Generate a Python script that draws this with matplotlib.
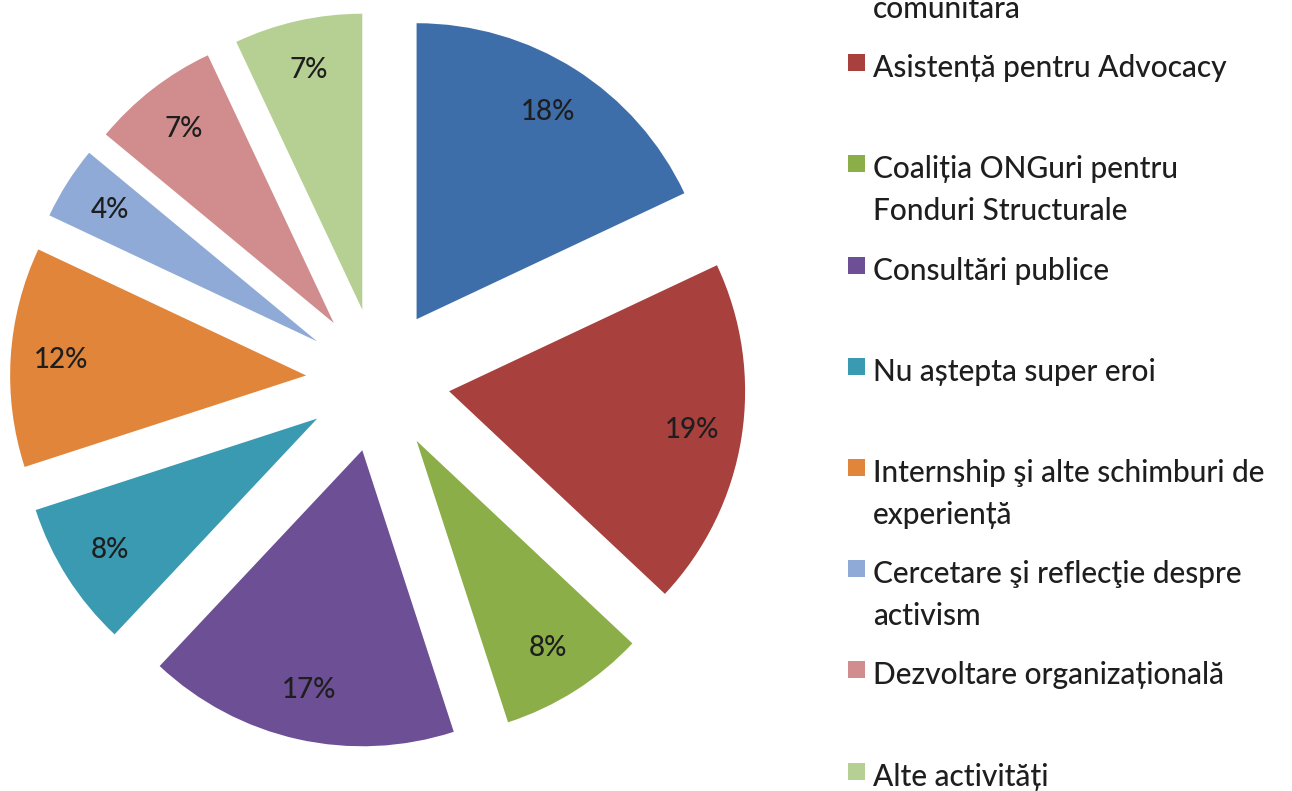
# pie chart of activity shares, exploded slices, legend on the right
import matplotlib
matplotlib.use("Agg")
from matplotlib import pyplot as plt
from matplotlib.patches import Rectangle

plt.rcParams['font.family'] = ['Lato', 'DejaVu Sans']

# data (clockwise from 12 o'clock)
labels = ["Implicare\ncomunitară",
          "Asistență pentru Advocacy",
          "Coaliția ONGuri pentru\nFonduri Structurale",
          "Consultări publice",
          "Nu aștepta super eroi",
          "Internship şi alte schimburi de\nexperiență",
          "Cercetare şi reflecţie despre\nactivism",
          "Dezvoltare organizațională",
          "Alte activități"]
shares = [18, 19, 8, 17, 8, 12, 4, 7, 7]
colors = ["#3E6EA9", "#A8403E", "#8BAE48", "#6C4F95", "#3A9AB1",
          "#E1853A", "#8FAAD7", "#D18D8E", "#B6CF93"]

W, H = 1292, 791
fig = plt.figure(figsize=(W / 100, H / 100), dpi=100)
ax = fig.add_axes([0, 0, 1, 1])

# axes in pixel units, y measured upward
cx, cy, r = 378, H - 380, 296
ax.pie(shares, colors=colors, startangle=90, counterclock=False,
       center=(cx, cy), radius=r, explode=[72] * len(shares),
       autopct=lambda p: f"{p:.0f}%", pctdistance=0.83, frame=True,
       wedgeprops=dict(linewidth=0),
       textprops=dict(fontsize=20, color="#1e1e1e", weight='medium'))
ax.set_xlim(0, W)
ax.set_ylim(0, H)
ax.set_aspect('equal')
ax.axis('off')

# legend drawn by hand: equal slots, square next to first line
slot0, slot_step, line_step = -33, 101.2, 42
for i, (lab, col) in enumerate(zip(labels, colors)):
    y0 = slot0 + i * slot_step
    ax.add_patch(Rectangle((848, H - y0 - 3), 17, 17, color=col, linewidth=0))
    for k, line in enumerate(lab.split("\n")):
        ax.text(873, H - (y0 + k * line_step), line, fontsize=21.5,
                color="#1e1e1e", va='center', ha='left', weight='medium')

fig.savefig("out.png", dpi=100)
